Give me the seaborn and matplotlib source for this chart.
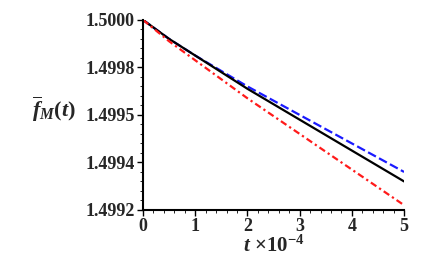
import matplotlib
matplotlib.use("Agg")
import matplotlib.pyplot as plt
import numpy as np
import pandas as pd
import seaborn as sns
from matplotlib.ticker import MultipleLocator, FixedLocator

# values
t = [0, 0.5, 1, 2, 3, 4, 5]
f_black = [1.50000, 1.49992, 1.49985, 1.49971, 1.49958, 1.49945, 1.49932]
f_blue = [1.50000, 1.49992, 1.49985, 1.49972, 1.49960, 1.49948, 1.49936]
f_red = [1.50000, 1.49991, 1.49983, 1.49967, 1.49952, 1.49937, 1.49922]

y_ticks = [1.4992, 1.4994, 1.4996, 1.4998, 1.5000]
y_labels = ['1.4992', '1.4994', '1.4995', '1.4998', '1.5000']
x_ticks = [0, 1, 2, 3, 4, 5]

sns.set_style('ticks')
plt.rcParams['font.family'] = ['Liberation Serif', 'DejaVu Serif']
plt.rcParams['font.weight'] = 'bold'
plt.rcParams['mathtext.fontset'] = 'custom'
plt.rcParams['mathtext.it'] = 'Liberation Serif:bold:italic'
plt.rcParams['mathtext.rm'] = 'Liberation Serif:bold'
plt.rcParams['mathtext.bf'] = 'Liberation Serif:bold'

fig = plt.figure(figsize=(4.47, 2.73), dpi=100)
ax = fig.add_axes([0.32, 0.231, 0.584, 0.696])

sns.lineplot(x=t, y=f_blue, ax=ax, color='#1a1aff', lw=1.6,
             linestyle=(0, (4, 1.6)))
sns.lineplot(x=t, y=f_black, ax=ax, color='black', lw=1.6)
sns.lineplot(x=t, y=f_red, ax=ax, color='#ff1a1a', lw=1.6,
             linestyle=(0, (3, 1.5, 1, 1.5)))

ax.set_xlim(0, 5)
ax.set_ylim(1.4992, 1.5000)
ax.yaxis.set_major_locator(FixedLocator(y_ticks))
ax.set_yticklabels(y_labels)
ax.set_xticks(x_ticks)
ax.xaxis.set_minor_locator(MultipleLocator(0.2))
ax.yaxis.set_minor_locator(MultipleLocator(0.00004))
ax.tick_params(axis='both', which='major', labelsize=13, length=4, width=1,
               color='black', pad=2)
ax.tick_params(axis='both', which='minor', length=2, width=0.6, color='black')
for lbl in ax.get_xticklabels() + ax.get_yticklabels():
    lbl.set_fontweight('bold')

sns.despine(ax=ax)
for s in ['left', 'bottom']:
    ax.spines[s].set_linewidth(1.5)
    ax.spines[s].set_color('black')

ax.set_xlabel(r'$t\ \mathrm{\times 10^{-4}}$', fontsize=15, labelpad=0)
ax.set_ylabel(r'$\overline{f}_{M}(t)$', fontsize=16, rotation=0)
ax.yaxis.set_label_coords(-0.34, 0.45)

fig.savefig('out.png', dpi=100)
